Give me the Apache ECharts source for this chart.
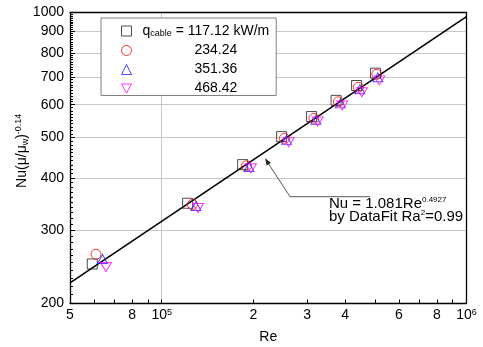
<!DOCTYPE html>
<html>
<head>
<meta charset="utf-8">
<script src="https://cdn.jsdelivr.net/npm/echarts@6/dist/echarts.min.js"></script>
<style>
  html, body { margin: 0; padding: 0; background: #fff; }
  #chart { width: 483px; height: 347px; }
</style>
</head>
<body>
<div id="chart"></div>
<script>
const FONT = '"Liberation Sans", Arial, sans-serif';
const lg = Math.log10;

// axis ranges and ticks
const xMin = 50000, xMax = 1000000;
const yMin = 200, yMax = 1000;
const xTickValues = [50000, 60000, 70000, 80000, 90000, 100000, 200000, 300000, 400000,
  500000, 600000, 700000, 800000, 900000, 1000000];
const xLabelValues = [50000, 80000, 100000, 200000, 300000, 400000, 600000, 800000, 1000000];
const xLabelTexts = ['5', '8', '{b|10}{s|5}', '2', '3', '4', '6', '8', '{b|10}{s|6}'];
const yLabelValues = [200, 300, 400, 500, 600, 700, 800, 900, 1000];
const yGridValues = [300, 400, 500, 600, 700, 800, 900];
const yMinorTicks = [];
for (let v = 210; v < 1000; v += 10) {
  if (v % 100) yMinorTicks.push(v);
}

// legend names
const seriesNames = ['117.12 kW/m', '234.24', '351.36', '468.42'];

// measured points, Re and Nu(mu/mu_w)^-0.14
const reSquare = [59170, 121600, 184300, 247400, 310200, 373300, 435800, 503000];
const nuSquare = [248.3, 347.6, 430.5, 502.9, 561.9, 614.6, 667.3, 714.6];
const reCircle = [60860, 126100, 189700, 252700, 315700, 379900, 441800, 507900];
const nuCircle = [262.0, 345.3, 427.4, 497.9, 556.3, 609.5, 660.7, 710.0];
const reUp = [63920, 129500, 193300, 256600, 320400, 385700, 446800, 511800];
const nuUp = [255.3, 342.4, 425.0, 493.8, 551.6, 604.5, 653.4, 698.2];
const reDown = [65640, 131500, 196200, 260900, 324600, 391000, 453600, 517600];
const nuDown = [244.2, 338.6, 421.9, 487.5, 546.5, 597.2, 642.6, 686.7];

// fit line end points
const fitRe = [50000, 1000000];
const fitNu = [223.5, 977];

function pts(re, nu) {
  return re.map((r, i) => [lg(r), lg(nu[i])]);
}

const chart = echarts.init(document.getElementById('chart'));

const frameLine = { show: true, onZero: false, lineStyle: { color: '#000', width: 1.3 } };
const gridLine = { show: true, lineStyle: { color: '#c8c8c8', width: 1 } };
const baseText = { fontSize: 14, fontFamily: FONT, color: '#000' };

chart.setOption({
  animation: false,
  backgroundColor: '#fff',
  grid: { left: 70, right: 16.5, top: 12.5, bottom: 44, outerBoundsMode: 'none', containLabel: false },
  legend: {
    data: [
      { name: seriesNames[0] },
      { name: seriesNames[1] },
      { name: seriesNames[2] },
      { name: seriesNames[3], icon: 'path://M0,0L10,0L5,9Z' }
    ],
    left: 101,
    top: 18,
    orient: 'vertical',
    itemWidth: 10,
    itemHeight: 10,
    itemGap: 5,
    padding: [6, 7, 0, 20],
    backgroundColor: '#fff',
    borderColor: '#808080',
    borderWidth: 1,
    selectedMode: false,
    itemStyle: { borderWidth: 1 },
    textStyle: {
      fontSize: 14,
      fontFamily: FONT,
      color: '#000',
      rich: {
        q: { fontSize: 14, fontFamily: FONT, lineHeight: 15, padding: [0, 0, 0, 6] },
        sub: { fontSize: 9, fontFamily: FONT, lineHeight: 6, verticalAlign: 'bottom' },
        t: { fontSize: 14, fontFamily: FONT, lineHeight: 15 },
        n: { fontSize: 14, fontFamily: FONT, lineHeight: 15, padding: [0, 0, 0, 58] }
      }
    },
    formatter: (name) => name === seriesNames[0]
      ? '{q|q}{sub|cable}{t| = ' + name + '}'
      : '{n|' + name + '}'
  },
  xAxis: [
    {
      type: 'value',
      min: lg(xMin),
      max: lg(xMax),
      position: 'bottom',
      name: 'Re',
      nameLocation: 'middle',
      nameGap: 27,
      nameTextStyle: baseText,
      axisLine: frameLine,
      axisTick: { show: true, inside: true, length: 3.5, customValues: xTickValues.map(lg), lineStyle: { color: '#000' } },
      axisLabel: {
        customValues: xLabelValues.map(lg),
        margin: 5,
        ...baseText,
        formatter: (v) => {
          const i = xLabelValues.findIndex((x) => Math.abs(lg(x) - v) < 1e-6);
          return i < 0 ? '' : xLabelTexts[i];
        },
        rich: {
          b: { fontSize: 14, fontFamily: FONT, color: '#000', lineHeight: 15 },
          s: { fontSize: 9, fontFamily: FONT, color: '#000', lineHeight: 8, verticalAlign: 'top' }
        }
      },
      splitLine: { show: false }
    },
    {
      type: 'value',
      min: lg(xMin),
      max: lg(xMax),
      position: 'top',
      axisLine: frameLine,
      axisTick: { show: false, customValues: [lg(100000)] },
      axisLabel: { show: false },
      splitLine: gridLine
    }
  ],
  yAxis: [
    {
      type: 'value',
      min: lg(yMin),
      max: lg(yMax),
      position: 'left',
      name: '{a|Nu(μ/μ}{w|w}{a|)}{p|-0.14}',
      nameLocation: 'middle',
      nameGap: 40,
      nameMoveOverlap: false,
      nameRotate: 90,
      nameTextStyle: {
        ...baseText,
        padding: [0, 0, 0, 14],
        rich: {
          a: { fontSize: 14, fontFamily: FONT, color: '#000', lineHeight: 16 },
          w: { fontSize: 9, fontFamily: FONT, color: '#000', lineHeight: 6, verticalAlign: 'bottom' },
          p: { fontSize: 9, fontFamily: FONT, color: '#000', lineHeight: 6, verticalAlign: 'top' }
        }
      },
      axisLine: frameLine,
      axisTick: { show: true, inside: true, length: 3, customValues: yMinorTicks.map(lg), lineStyle: { color: '#000' } },
      axisLabel: {
        customValues: yLabelValues.map(lg),
        margin: 6,
        ...baseText,
        formatter: (v) => String(Math.round(Math.pow(10, v)))
      },
      splitLine: { show: false }
    },
    {
      type: 'value',
      min: lg(yMin),
      max: lg(yMax),
      position: 'left',
      offset: 0,
      axisLine: { show: false },
      axisTick: { show: true, inside: true, length: 5, customValues: yGridValues.map(lg), lineStyle: { color: '#000' } },
      axisLabel: { show: false },
      splitLine: gridLine
    },
    {
      type: 'value',
      min: lg(yMin),
      max: lg(yMax),
      position: 'right',
      axisLine: frameLine,
      axisTick: { show: false },
      axisLabel: { show: false },
      splitLine: { show: false }
    }
  ],
  series: [
    {
      name: 'fit',
      type: 'line',
      data: pts(fitRe, fitNu),
      symbol: 'none',
      silent: true,
      lineStyle: { color: '#000', width: 1.6 },
      z: 2
    },
    {
      name: seriesNames[0],
      type: 'scatter',
      symbol: 'rect',
      symbolSize: 10,
      itemStyle: { color: 'rgba(0,0,0,0)', borderColor: '#222', borderWidth: 1 },
      data: pts(reSquare, nuSquare),
      z: 3
    },
    {
      name: seriesNames[1],
      type: 'scatter',
      symbol: 'circle',
      symbolSize: 10,
      itemStyle: { color: 'rgba(0,0,0,0)', borderColor: '#ff0000', borderWidth: 1 },
      data: pts(reCircle, nuCircle),
      z: 3
    },
    {
      name: seriesNames[2],
      type: 'scatter',
      symbol: 'triangle',
      symbolSize: [10, 9],
      itemStyle: { color: 'rgba(0,0,0,0)', borderColor: '#2020ff', borderWidth: 1 },
      data: pts(reUp, nuUp),
      z: 3
    },
    {
      name: seriesNames[3],
      type: 'scatter',
      symbol: 'triangle',
      symbolRotate: 180,
      symbolSize: [11, 9],
      itemStyle: { color: 'rgba(0,0,0,0)', borderColor: '#ff00ff', borderWidth: 1 },
      data: pts(reDown, nuDown),
      z: 3
    }
  ],
  graphic: [
    {
      type: 'polyline',
      shape: { points: [[370, 196.7], [290, 196.7], [268, 163]] },
      style: { stroke: '#555', lineWidth: 1, fill: null },
      z: 10
    },
    {
      type: 'polygon',
      shape: { points: [[265, 158.3], [270.9, 162.8], [266.7, 165.6]] },
      style: { fill: '#222' },
      z: 10
    },
    {
      type: 'text',
      x: 329,
      y: 203.5,
      z: 10,
      style: {
        text: '{m|Nu = 1.081Re}{p|0.4927}',
        verticalAlign: 'middle',
        rich: {
          m: { fontSize: 15, fontFamily: FONT, fill: '#000', lineHeight: 15 },
          p: { fontSize: 8, fontFamily: FONT, fill: '#000', lineHeight: 6, verticalAlign: 'top' }
        }
      }
    },
    {
      type: 'text',
      x: 329,
      y: 216.5,
      z: 10,
      style: {
        text: '{m|by DataFit Ra}{p|2}{m|=0.99}',
        verticalAlign: 'middle',
        rich: {
          m: { fontSize: 15, fontFamily: FONT, fill: '#000', lineHeight: 15 },
          p: { fontSize: 8, fontFamily: FONT, fill: '#000', lineHeight: 6, verticalAlign: 'top' }
        }
      }
    }
  ]
});
</script>
</body>
</html>
